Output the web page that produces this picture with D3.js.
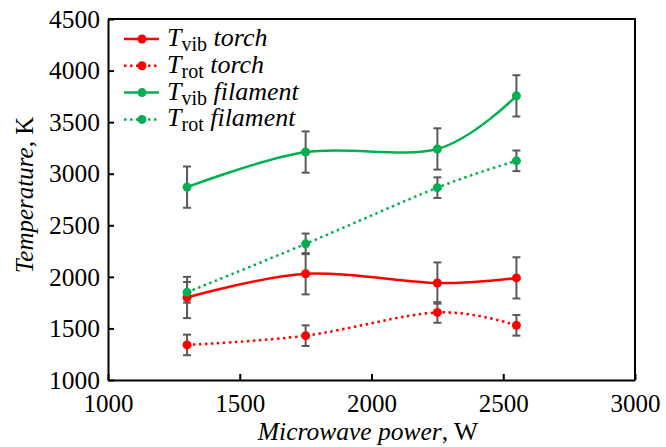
<!DOCTYPE html>
<html>
<head>
<meta charset="utf-8">
<script src="https://cdn.jsdelivr.net/npm/d3@7"></script>
<style>
  body { margin: 0; background: #fff; }
  .axis path, .axis line { stroke: #000; stroke-width: 2px; }
</style>
</head>
<body>
<div id="chart"></div>
<script>
// data
var power = [1300, 1750, 2250, 2550];
var vibTorch = [1800, 2030, 1940, 1990];
var vibTorchErr = [200, 200, 200, 200];
var rotTorch = [1340, 1430, 1655, 1530];
var rotTorchErr = [100, 100, 100, 100];
var vibFil = [2870, 3210, 3240, 3755];
var vibFilErr = [200, 200, 200, 200];
var rotFil = [1850, 2320, 2865, 3125];
var rotFilErr = [100, 100, 100, 100];

var xTicks = [1000, 1500, 2000, 2500, 3000];
var yTicks = [1000, 1500, 2000, 2500, 3000, 3500, 4000, 4500];

var series = [
  {sub: "vib", name: "torch", values: vibTorch, err: vibTorchErr, color: "#ff0000", dotted: false},
  {sub: "rot", name: "torch", values: rotTorch, err: rotTorchErr, color: "#ff0000", dotted: true},
  {sub: "vib", name: "filament", values: vibFil, err: vibFilErr, color: "#00b050", dotted: false},
  {sub: "rot", name: "filament", values: rotFil, err: rotFilErr, color: "#00b050", dotted: true}
];

var width = 666, height = 447;
var mLeft = 108, mRight = 635, mTop = 19, mBottom = 380;
var serif = "'Liberation Serif', serif";

var svg = d3.select("#chart").append("svg")
  .attr("width", width)
  .attr("height", height);

var x = d3.scaleLinear().domain([1000, 3000]).range([mLeft, mRight]);
var y = d3.scaleLinear().domain([1000, 4500]).range([mBottom, mTop]);

// frame (top + right)
svg.append("path")
  .attr("d", "M" + mLeft + "," + mTop + "H" + mRight + "V" + mBottom)
  .attr("fill", "none")
  .attr("stroke", "#000")
  .attr("stroke-width", 2);

var xAxis = svg.append("g")
  .attr("class", "axis")
  .attr("transform", "translate(0," + mBottom + ")")
  .call(d3.axisBottom(x).tickValues(xTicks).tickFormat(d3.format("d")).tickSize(-6).tickSizeOuter(0).tickPadding(14));
xAxis.attr("font-family", serif);
xAxis.selectAll("text")
  .style("font-family", serif)
  .style("font-size", "25px")
  .style("fill", "#000");

var yAxis = svg.append("g")
  .attr("class", "axis")
  .attr("transform", "translate(" + mLeft + ",0)")
  .call(d3.axisLeft(y).tickValues(yTicks).tickFormat(d3.format("d")).tickSize(-6).tickSizeOuter(0).tickPadding(8));
yAxis.attr("font-family", serif);
yAxis.selectAll("text")
  .style("font-family", serif)
  .style("font-size", "25.5px")
  .style("fill", "#000");

// axis titles
svg.append("text")
  .attr("x", 368)
  .attr("y", 440)
  .attr("text-anchor", "middle")
  .style("font-family", serif)
  .style("font-size", "25.5px")
  .call(function(t) {
    t.append("tspan").style("font-style", "italic").text("Microwave power");
    t.append("tspan").text(", W");
  });

svg.append("text")
  .attr("transform", "translate(33,195) rotate(-90)")
  .attr("text-anchor", "middle")
  .style("font-family", serif)
  .style("font-size", "25px")
  .call(function(t) {
    t.append("tspan").style("font-style", "italic").text("Temperature");
    t.append("tspan").text(", K");
  });

var line = d3.line()
  .x(function(d, i) { return x(power[i]); })
  .y(function(d) { return y(d); })
  .curve(d3.curveCardinal.tension(0));

var g = svg.append("g");

series.forEach(function(s) {
  // error bars
  s.values.forEach(function(v, i) {
    var px = x(power[i]);
    var eb = g.append("g").attr("stroke", "#595959").attr("stroke-width", 2);
    eb.append("line").attr("x1", px).attr("x2", px).attr("y1", y(v - s.err[i])).attr("y2", y(v + s.err[i]));
    eb.append("line").attr("x1", px - 4).attr("x2", px + 4).attr("y1", y(v - s.err[i])).attr("y2", y(v - s.err[i]));
    eb.append("line").attr("x1", px - 4).attr("x2", px + 4).attr("y1", y(v + s.err[i])).attr("y2", y(v + s.err[i]));
  });
});

series.forEach(function(s) {
  g.append("path")
    .attr("d", line(s.values))
    .attr("fill", "none")
    .attr("stroke", s.color)
    .attr("stroke-width", 2.5)
    .attr("stroke-dasharray", s.dotted ? "2.5,3.5" : null);
  g.selectAll(null)
    .data(s.values)
    .enter().append("circle")
    .attr("cx", function(d, i) { return x(power[i]); })
    .attr("cy", function(d) { return y(d); })
    .attr("r", 4.5)
    .attr("fill", s.color);
});

// legend
var legend = svg.append("g").attr("transform", "translate(124,39)");
series.forEach(function(s, i) {
  var row = legend.append("g").attr("transform", "translate(0," + (i * 26.8) + ")");
  row.append("line")
    .attr("x1", 0).attr("x2", 35)
    .attr("stroke", s.color)
    .attr("stroke-width", 2.5)
    .attr("stroke-dasharray", s.dotted ? "2.5,3.5" : null);
  row.append("circle").attr("cx", 18).attr("r", 4.5).attr("fill", s.color);
  var t = row.append("text").attr("x", 43).attr("y", 7)
    .style("font-family", serif)
    .style("font-size", "26px");
  t.append("tspan").style("font-style", "italic").text("T");
  t.append("tspan").attr("dy", 5).style("font-size", "20px").text(s.sub);
  t.append("tspan").attr("dy", -5).style("font-style", "italic").text(" " + s.name);
});
</script>
</body>
</html>
